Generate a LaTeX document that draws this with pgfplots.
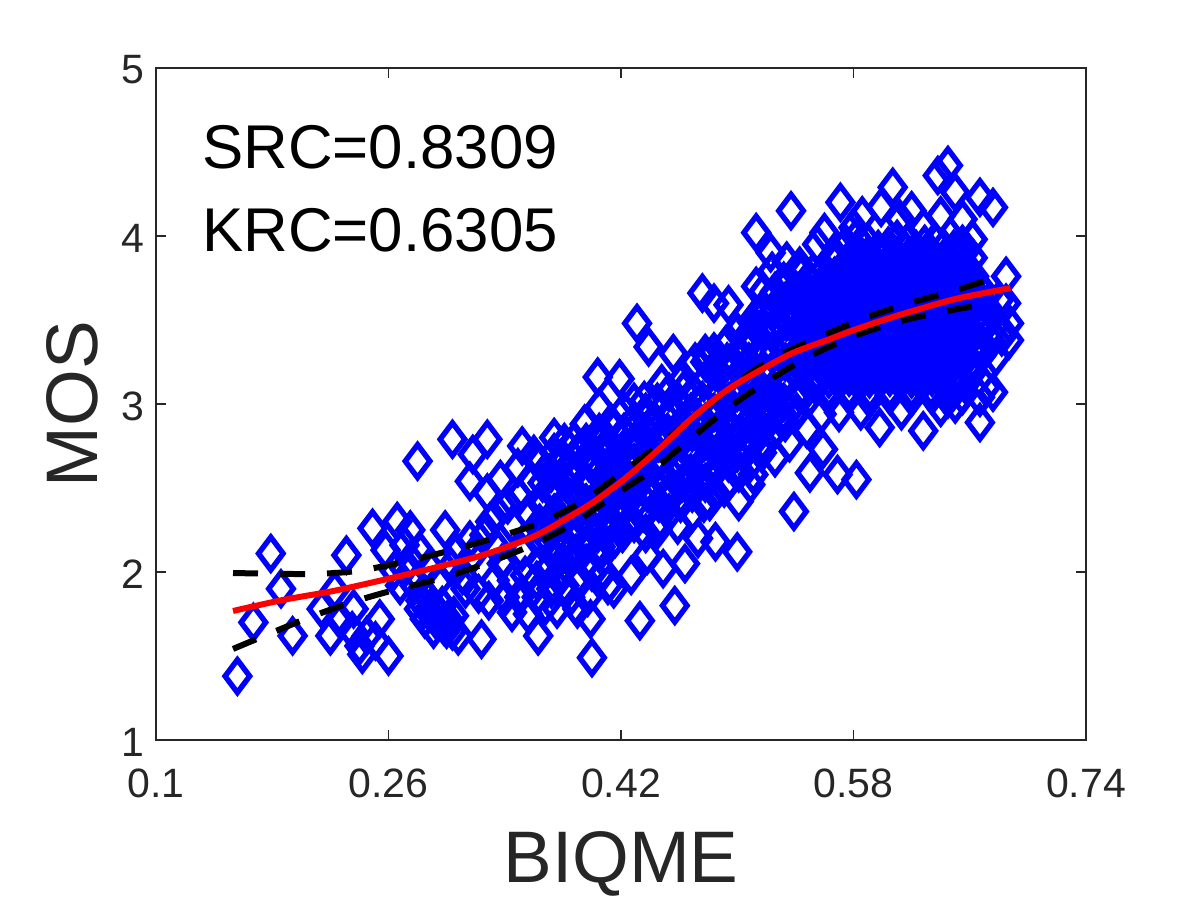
\documentclass[border=0pt]{standalone}
\usepackage{fontspec}
\setmainfont{Liberation Sans}
\usepackage{pgfplots}
\pgfplotsset{compat=1.18}
\usetikzlibrary{plotmarks}
\definecolor{axisgray}{HTML}{262626}
\begin{document}
\begin{tikzpicture}[x=1pt,y=1pt]
\path[use as bounding box] (0,0) rectangle (600,450);
\begin{axis}[
    at={(78pt,80pt)}, anchor=south west,
    scale only axis, width=465pt, height=336pt,
    xmin=0.1, xmax=0.74, ymin=1, ymax=5,
    xtick={0.1,0.26,0.42,0.58,0.74},
    xticklabels={0.1,0.26,0.42,0.58,0.74},
    ytick={1,2,3,4,5},
    yticklabels={1,2,3,4,5},
    tick align=inside,
    tickpos=both,
    tick style={axisgray, line width=0.6pt},
    major tick length=5pt,
    axis line style={axisgray, line width=0.8pt},
    tick label style={font=\fontsize{20.5}{24}\selectfont, text=axisgray},
    xticklabel style={yshift=-11pt},
    yticklabel style={xshift=-2.5pt, yshift=-1pt},
    /pgf/number format/assume math mode=true,
    xlabel={BIQME}, ylabel={MOS},
    label style={font=\fontsize{36.5}{40}\selectfont, text=axisgray},
    xlabel style={yshift=-10pt},
    ylabel style={yshift=4.5pt},
    clip mode=individual,
    clip=false,
]
% scatter
\addplot[only marks, mark=diamond, mark size=8.2pt,
    mark options={draw={rgb,1:red,0;green,0;blue,1}, line width=2.7pt, fill=none, solid}] coordinates {
% low left
(.156,1.38)(.167,1.70)(.179,2.11)(.186,1.90)(.194,1.62)(.214,1.78)(.220,1.62)(.223,1.89)
(.231,2.10)(.227,1.71)(.235,1.65)(.240,1.56)(.242,1.51)(.251,1.59)(.260,1.50)(.249,2.26)
(.266,2.30)(.258,2.13)(.271,2.16)(.275,2.25)(.264,2.01)(.275,2.07)(.280,2.66)(.278,1.92)
(.282,1.83)(.287,1.77)(.293,1.71)(.298,1.68)(.304,1.65)(.308,1.62)(.324,1.60)(.304,2.79)
(.318,2.70)(.328,2.79)(.316,2.54)(.328,2.47)(.299,2.25)(.316,2.19)(.284,1.88)(.290,1.80)
(.296,1.74)(.301,1.72)(.307,2.12)(.311,1.98)(.318,2.10)(.322,1.87)(.329,1.83)(.313,1.90)
(.236,1.78)(.245,1.62)(.254,1.72)(.268,1.92)(.271,2.02)(.282,2.12)(.288,2.03)(.295,1.95)
(.303,2.03)(.326,2.22)(.334,2.15)(.338,2.05)(.333,1.95)(.340,1.85)(.345,1.76)
(.281,1.78)(.286,1.86)(.292,1.78)(.297,1.80)(.300,1.66)(.305,1.74)(.285,1.72)(.291,1.66)
(.345,1.95)(.350,1.85)(.356,1.75)(.362,1.95)(.368,1.80)(.372,1.90)(.378,2.00)(.385,1.85)
(.392,1.95)(.400,2.00)(.408,2.00)(.415,1.90)(.330,2.30)(.335,2.35)
% middle band
(.337,2.55)(.342,2.40)(.345,2.28)(.349,2.62)(.350,2.45)(.352,2.12)(.354,1.98)(.356,2.35)
(.358,2.55)(.360,2.70)(.363,1.62)(.362,1.85)(.364,2.20)(.366,2.40)(.368,2.60)(.370,2.02)
(.372,2.50)(.374,2.80)(.376,1.78)(.377,2.30)(.379,2.68)(.381,1.92)(.383,2.10)(.384,2.45)
(.386,2.62)(.388,2.78)(.390,1.78)(.391,2.25)(.393,2.52)(.395,2.88)(.396,2.05)(.397,1.85)
(.400,1.49)(.399,1.72)(.401,2.38)(.403,2.64)(.404,3.16)(.405,2.98)(.406,2.15)(.407,2.78)
(.409,2.48)(.411,1.92)(.412,2.30)(.414,2.62)(.415,2.85)(.416,2.20)(.419,3.15)(.419,2.70)
(.420,2.42)(.421,2.55)(.422,2.96)(.424,2.28)(.426,2.65)(.427,1.98)(.429,2.48)(.431,3.48)
(.431,2.80)(.433,1.71)(.433,2.35)(.435,2.58)(.436,3.02)(.438,2.10)(.439,3.34)(.440,2.72)
(.441,2.45)(.443,2.90)(.445,2.25)(.447,2.60)(.448,3.12)(.449,2.02)(.451,2.78)(.452,2.42)
(.454,2.95)(.456,3.30)(.457,1.80)(.458,2.62)(.459,2.28)(.461,2.85)(.463,3.08)(.464,2.05)
(.466,2.52)(.468,2.72)(.469,2.35)(.471,3.25)(.472,2.92)(.473,2.20)(.476,3.66)(.476,3.02)
(.478,2.60)(.480,2.82)(.481,2.42)(.483,3.20)(.484,3.60)(.485,2.18)(.487,2.95)(.489,2.70)
(.491,2.50)(.492,3.35)(.494,3.59)(.495,2.86)(.497,3.10)(.499,2.62)(.500,2.12)(.501,2.42)
(.503,3.28)(.504,2.95)(.506,2.75)(.508,3.42)(.509,2.52)(.511,2.58)(.512,3.10)(.513,3.70)
(.513,4.02)(.515,2.86)(.517,3.30)(.518,2.77)(.519,3.55)(.521,2.98)(.523,3.90)(.524,3.20)
(.526,2.68)(.527,3.45)(.529,2.92)(.531,3.70)(.532,3.10)(.534,3.32)(.536,2.77)(.537,4.15)
(.538,3.55)(.539,2.36)(.541,3.02)(.543,3.82)(.544,3.22)(.546,3.45)(.548,2.85)(.550,2.59)
(.551,3.65)(.553,3.12)(.555,3.95)(.556,3.35)(.558,2.94)(.559,2.73)(.352,2.75)(.369,2.20)
(.380,2.36)(.394,2.15)(.408,2.55)(.418,2.35)(.428,2.72)(.437,2.50)(.446,2.80)(.455,2.50)
(.465,2.85)(.474,2.55)(.486,2.80)(.496,2.95)(.507,3.18)(.516,3.05)(.525,3.02)(.535,3.15)
(.545,3.05)(.478,3.30)(.490,3.15)(.505,3.35)(.515,3.50)(.528,3.60)(.540,3.68)(.552,3.78)
% band, filling the dense part
(.365,2.05)(.366,2.17)(.364,2.29)(.365,2.41)(.366,2.53)(.364,2.65)
(.373,2.11)(.372,2.23)(.374,2.35)(.373,2.47)(.372,2.59)(.374,2.71)
(.381,2.05)(.382,2.17)(.380,2.29)(.381,2.41)(.382,2.53)(.380,2.65)(.381,2.77)
(.389,2.11)(.388,2.23)(.390,2.35)(.389,2.47)(.388,2.59)(.390,2.71)
(.397,2.17)(.398,2.29)(.396,2.41)(.397,2.53)(.398,2.65)(.396,2.77)
(.405,2.11)(.404,2.23)(.406,2.35)(.405,2.47)(.404,2.59)(.406,2.71)(.405,2.83)
(.413,2.17)(.414,2.29)(.412,2.41)(.413,2.53)(.414,2.65)(.412,2.77)(.413,2.89)
(.421,2.23)(.420,2.35)(.422,2.47)(.421,2.59)(.420,2.71)(.422,2.83)
(.429,2.29)(.430,2.41)(.428,2.53)(.429,2.65)(.430,2.77)(.428,2.89)(.429,3.01)
(.437,2.23)(.436,2.35)(.438,2.47)(.437,2.59)(.436,2.71)(.438,2.83)(.437,2.95)
(.445,2.29)(.446,2.41)(.444,2.53)(.445,2.65)(.446,2.77)(.444,2.89)(.445,3.01)
(.453,2.35)(.452,2.47)(.454,2.59)(.453,2.71)(.452,2.83)(.454,2.95)(.453,3.07)
(.461,2.41)(.462,2.53)(.460,2.65)(.461,2.77)(.462,2.89)(.460,3.01)(.461,3.13)
(.469,2.47)(.468,2.59)(.470,2.71)(.469,2.83)(.468,2.95)(.470,3.07)
(.477,2.41)(.478,2.53)(.476,2.65)(.477,2.77)(.478,2.89)(.476,3.01)(.477,3.13)(.478,3.25)
(.485,2.47)(.484,2.59)(.486,2.71)(.485,2.83)(.484,2.95)(.486,3.07)(.485,3.19)(.484,3.31)
(.493,2.53)(.494,2.65)(.492,2.77)(.493,2.89)(.494,3.01)(.492,3.13)(.493,3.25)(.494,3.37)
(.501,2.59)(.500,2.71)(.502,2.83)(.501,2.95)(.500,3.07)(.502,3.19)(.501,3.31)(.500,3.43)
(.509,2.65)(.510,2.77)(.508,2.89)(.509,3.01)(.510,3.13)(.508,3.25)(.509,3.37)(.510,3.49)
(.517,2.71)(.516,2.83)(.518,2.95)(.517,3.07)(.516,3.19)(.518,3.31)(.517,3.43)(.516,3.55)(.518,3.67)
(.525,2.83)(.526,2.95)(.524,3.07)(.525,3.19)(.526,3.31)(.524,3.43)(.525,3.55)(.526,3.67)(.524,3.79)
(.533,2.89)(.532,3.01)(.534,3.13)(.533,3.25)(.532,3.37)(.534,3.49)(.533,3.61)(.532,3.73)(.534,3.85)
(.541,2.95)(.542,3.07)(.540,3.19)(.541,3.31)(.542,3.43)(.540,3.55)(.541,3.67)(.542,3.79)
% dense block, right
(.575,3.95)(.590,3.96)(.604,3.94)(.617,3.96)(.629,3.95)(.642,3.93)(.655,3.95)
(.568,3.88)(.583,3.87)(.597,3.89)(.611,3.87)(.624,3.88)(.637,3.86)(.650,3.88)(.662,3.87)
(.560,3.80)(.574,3.81)(.589,3.79)(.603,3.81)(.618,3.79)(.631,3.80)(.645,3.81)(.657,3.79)
(.552,3.71)(.566,3.72)(.581,3.73)(.595,3.71)(.609,3.72)(.624,3.71)(.638,3.73)(.652,3.72)(.665,3.71)
(.545,3.62)(.559,3.64)(.573,3.63)(.588,3.64)(.602,3.63)(.616,3.65)(.630,3.63)(.644,3.64)(.658,3.63)(.671,3.65)
(.548,3.54)(.562,3.55)(.577,3.56)(.591,3.55)(.605,3.54)(.620,3.56)(.634,3.55)(.648,3.54)(.662,3.56)(.675,3.54)
(.542,3.46)(.556,3.47)(.570,3.46)(.584,3.47)(.598,3.48)(.612,3.46)(.627,3.47)(.641,3.46)(.655,3.47)(.669,3.46)
(.549,3.38)(.563,3.39)(.577,3.38)(.591,3.37)(.605,3.39)(.620,3.38)(.634,3.39)(.648,3.37)(.661,3.39)(.675,3.37)
(.540,3.30)(.556,3.30)(.570,3.31)(.584,3.29)(.598,3.30)(.612,3.31)(.627,3.29)(.641,3.31)(.655,3.30)(.668,3.29)
(.548,3.21)(.563,3.22)(.577,3.21)(.591,3.22)(.605,3.20)(.620,3.22)(.634,3.21)(.648,3.22)(.661,3.20)
(.556,3.13)(.570,3.13)(.584,3.12)(.598,3.14)(.612,3.13)(.627,3.12)(.641,3.14)(.653,3.12)
(.563,3.04)(.577,3.05)(.591,3.03)(.605,3.05)(.620,3.04)(.634,3.05)(.645,3.03)
(.570,2.95)(.585,2.96)(.613,2.96)(.640,2.98)
% second pass over the block
(.582,3.99)(.597,3.92)(.610,3.98)(.623,3.92)(.636,3.97)(.649,3.92)
(.575,3.84)(.590,3.84)(.604,3.85)(.618,3.84)(.631,3.84)(.644,3.84)(.656,3.84)
(.567,3.76)(.582,3.77)(.596,3.75)(.610,3.77)(.624,3.76)(.638,3.77)(.651,3.76)(.663,3.76)
(.559,3.68)(.574,3.68)(.588,3.69)(.602,3.67)(.617,3.68)(.631,3.68)(.645,3.69)(.658,3.68)
(.552,3.59)(.566,3.60)(.580,3.59)(.595,3.60)(.609,3.59)(.623,3.60)(.637,3.59)(.651,3.60)(.665,3.59)
(.555,3.51)(.569,3.51)(.584,3.52)(.598,3.51)(.612,3.50)(.627,3.51)(.641,3.51)(.655,3.50)(.669,3.51)
(.549,3.42)(.563,3.43)(.577,3.43)(.591,3.42)(.605,3.43)(.620,3.42)(.634,3.43)(.648,3.42)(.662,3.43)
(.556,3.34)(.570,3.35)(.584,3.34)(.598,3.35)(.612,3.34)(.627,3.34)(.641,3.35)(.655,3.34)(.668,3.34)
(.548,3.26)(.563,3.26)(.577,3.25)(.591,3.26)(.605,3.26)(.620,3.25)(.634,3.26)(.648,3.26)(.661,3.25)
(.556,3.17)(.570,3.18)(.584,3.17)(.598,3.17)(.612,3.18)(.627,3.17)(.641,3.18)(.653,3.17)
(.563,3.09)(.577,3.09)(.591,3.08)(.605,3.09)(.620,3.09)(.634,3.09)(.645,3.08)
% third pass, x shifted by half a step
(.582,3.92)(.603,3.90)(.616,3.91)(.630,3.90)(.644,3.89)(.656,3.90)
(.567,3.84)(.582,3.82)(.596,3.81)(.610,3.82)(.625,3.82)(.638,3.82)(.651,3.81)
(.560,3.74)(.574,3.76)(.589,3.74)(.603,3.76)(.617,3.74)(.631,3.75)(.645,3.74)(.658,3.74)
(.566,3.66)(.581,3.66)(.595,3.66)(.609,3.65)(.623,3.66)(.638,3.65)(.652,3.66)(.665,3.65)
(.559,3.57)(.573,3.58)(.588,3.57)(.602,3.58)(.616,3.57)(.630,3.58)(.644,3.57)(.658,3.58)
(.562,3.49)(.577,3.49)(.591,3.49)(.605,3.48)(.620,3.49)(.634,3.49)(.648,3.48)(.662,3.49)
(.556,3.40)(.570,3.40)(.584,3.41)(.598,3.40)(.612,3.40)(.627,3.41)(.641,3.40)(.655,3.41)
(.563,3.32)(.577,3.32)(.591,3.32)(.605,3.33)(.620,3.32)(.634,3.32)(.648,3.32)(.661,3.32)
(.556,3.24)(.570,3.24)(.584,3.24)(.598,3.24)(.612,3.24)(.627,3.24)(.641,3.24)(.655,3.24)
(.563,3.15)(.577,3.16)(.591,3.15)(.605,3.16)(.620,3.15)(.634,3.16)(.648,3.15)
% edge points, right
(.571,4.20)(.560,4.02)(.580,4.05)(.586,4.12)(.599,4.17)(.607,4.29)(.612,4.10)(.620,4.15)
(.628,4.05)(.638,4.36)(.645,4.42)(.650,4.26)(.640,4.12)(.655,4.10)(.662,3.98)(.667,4.23)
(.676,4.17)(.685,3.76)(.680,3.62)(.685,3.60)(.687,3.48)(.682,3.40)(.687,3.38)(.678,3.28)
(.676,3.07)(.667,3.04)(.671,3.10)(.667,2.89)(.628,2.84)(.598,2.86)(.582,2.55)(.569,2.58)
(.511,2.58)(.650,3.00)(.655,3.05)
};
% confidence bounds
\addplot[black, line width=3pt, dash pattern=on 12.5pt off 11pt, smooth, no marks] coordinates {
(.153,1.994)(.206,1.988)(.238,2.006)(.270,2.059)(.304,2.131)(.335,2.208)(.366,2.298)(.395,2.428)
(.421,2.595)(.448,2.768)(.474,2.946)(.500,3.131)(.527,3.280)(.557,3.399)(.588,3.512)(.619,3.601)
(.651,3.678)(.683,3.768)};
\addplot[black, line width=3pt, dash pattern=on 12.5pt off 11pt, smooth, no marks] coordinates {
(.153,1.542)(.201,1.714)(.233,1.815)(.264,1.893)(.297,1.964)(.328,2.054)(.359,2.161)(.388,2.292)
(.416,2.46)(.442,2.607)(.467,2.786)(.494,2.976)(.520,3.131)(.549,3.280)(.579,3.399)(.610,3.488)
(.641,3.548)(.675,3.601)};
% fitted curve
\addplot[red, line width=3pt, smooth, no marks] coordinates {
(.153,1.768)(.187,1.833)(.222,1.887)(.256,1.952)(.291,2.024)(.325,2.101)(.359,2.208)(.383,2.321)
(.403,2.428)(.424,2.565)(.447,2.738)(.469,2.917)(.493,3.083)(.516,3.202)(.538,3.303)(.562,3.381)
(.584,3.452)(.607,3.518)(.630,3.577)(.653,3.631)(.688,3.690)};
\node[anchor=west, font=\fontsize{30.9}{36}\selectfont, text=black] at (axis cs:0.127,4.53) {SRC=0.8309};
\node[anchor=west, font=\fontsize{30.9}{36}\selectfont, text=black] at (axis cs:0.127,4.035) {KRC=0.6305};
\end{axis}
\end{tikzpicture}
\end{document}
